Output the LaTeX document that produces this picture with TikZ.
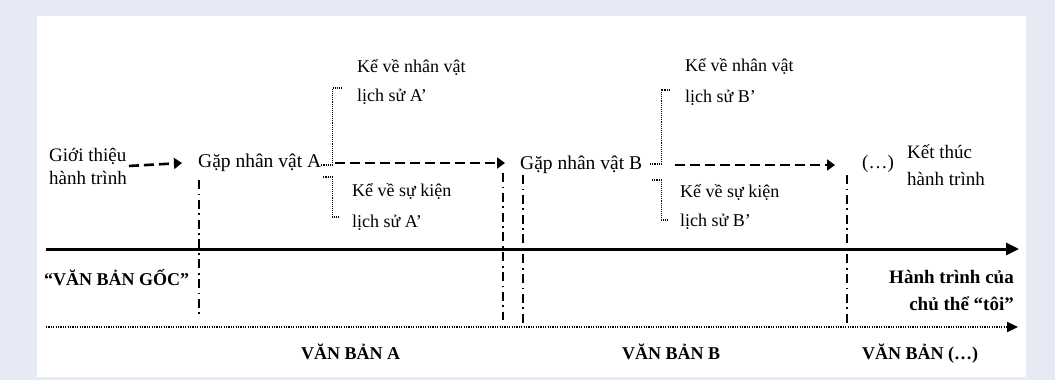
\documentclass[tikz,border=0pt]{standalone}
\usepackage{fontspec}
\setmainfont{Liberation Serif}
\usetikzlibrary{arrows.meta,calc}
\definecolor{pagebg}{HTML}{E6EAF4}
\tikzset{
	txt/.style={inner sep=0pt, anchor=base west, align=left, font=\fontsize{19}{29}\selectfont},
	sidetxt/.style={txt, font=\fontsize{18}{29}\selectfont},
	boldtxt/.style={inner sep=0pt, anchor=base west, font=\fontsize{18}{28}\selectfont\bfseries},
	flow/.style={line width=2.6pt, dash pattern=on 10pt off 5pt, -{Triangle[length=8pt,width=11pt]}},
	bracket/.style={line width=1.1pt, densely dotted},
	divider/.style={line width=2pt, dash pattern=on 9pt off 4.5pt on 1.8pt off 4.5pt},
}
\begin{document}
\begin{tikzpicture}[x=1pt,y=-1pt]
	\fill[pagebg] (0,0) rectangle (1055,380);
	\fill[white] (37,16) rectangle (1026,377);
	% dong su kien (base = dong cuoi)
	\node[txt, font=\fontsize{19}{23}\selectfont] (intro) at (49,184) {Giới thiệu\\hành trình};
	\node[txt, anchor=west, font=\fontsize{19.5}{29}\selectfont] (gapA) at (198,163) {Gặp nhân vật A};
	\node[txt, anchor=west, font=\fontsize{19.5}{29}\selectfont] (gapB) at (520,165) {Gặp nhân vật B};
	\node[sidetxt] (upA) at (357,101) {Kể về nhân vật\\lịch sử A’};
	\node[sidetxt, font=\fontsize{18}{31}\selectfont] (lowA) at (352,227) {Kể về sự kiện\\lịch sử A’};
	\node[sidetxt, font=\fontsize{18}{31}\selectfont] (upB) at (685,102) {Kể về nhân vật\\lịch sử B’};
	\node[sidetxt] (lowB) at (680,226) {Kể về sự kiện\\lịch sử B’};
	\node[txt] (etc) at (862,168) {(…)};
	\node[txt, font=\fontsize{19}{27}\selectfont] (ending) at (907,185) {Kết thúc\\hành trình};
	\draw[flow] ([xshift=2pt]intro.east) -- ([xshift=-16pt]gapA.west);
	\draw[flow] ([xshift=14pt]gapA.east) -- ($(gapA.east -| gapB.west)+(-15,0)$);
	\draw[flow] ([xshift=33pt]gapB.east) -- ($(gapB.east -| etc.west)+(-27,0)$);
	% ngoac
	\draw[bracket] ([yshift=-2pt]gapA.east) -- ++(11,0) |- ([xshift=-15pt]upA.west |- 0,88);
	\draw[bracket] ([shift={(2,14)}]gapA.east) -- ++(9,0) |- ([xshift=-12pt]lowA.west |- 0,217);
	\draw[bracket] ([shift={(8,-1)}]gapB.east) -- ++(11,0) |- ([xshift=-15pt]upB.west |- 0,90);
	\draw[bracket] ([shift={(10,15)}]gapB.east) -- ++(9,0) |- ([xshift=-12pt]lowB.west |- 0,220);
	% truc
	\coordinate (axL) at (46,249);
	\coordinate (axR) at (1019,249);
	\coordinate (txL) at (46,327);
	\coordinate (txR) at (1018,327);
	\draw[line width=3pt, -{Triangle[length=13pt,width=12pt]}] (axL) -- (axR);
	\draw[line width=2.2pt, dash pattern=on 1.2pt off 1.2pt, -{Triangle[length=11pt,width=10pt]}] (txL) -- (txR);
	\foreach \x/\a/\b in {199/180/318, 503/173/320, 523/175/323, 847/175/323}
		\draw[divider] (\x,\a) -- (\x,\b);
	\node[boldtxt] (goc) at (44,285) {“VĂN BẢN GỐC”};
	\node[boldtxt, anchor=base east, align=right, font=\fontsize{19}{27}\selectfont\bfseries] (subject) at (1014,310) {Hành trình của\\chủ thể “tôi”};
	\node[boldtxt] (textA) at (301,359) {VĂN BẢN A};
	\node[boldtxt] (textB) at (622,359) {VĂN BẢN B};
	\node[boldtxt] (textN) at (862,359) {VĂN BẢN (…)};
\end{tikzpicture}
\end{document}
